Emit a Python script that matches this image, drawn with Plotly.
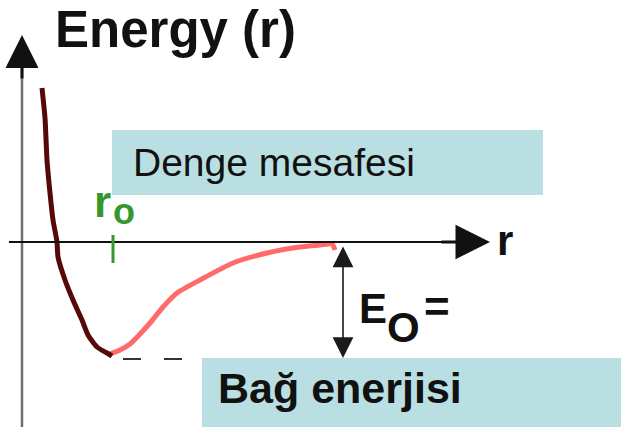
import plotly.graph_objects as go

# Interatomic potential energy curve (arbitrary units)
# Repulsive branch (r < r0)
r_repulsive = [0.20, 0.23, 0.25, 0.28, 0.31, 0.35, 0.36, 0.43, 0.51, 0.60, 0.66, 0.75, 0.85, 0.90]
E_repulsive = [1.54, 1.24, 0.82, 0.49, 0.22, 0.00, -0.15, -0.38, -0.58, -0.78, -0.93, -1.05, -1.11, -1.14]

# Attractive branch (r > r0)
r_attractive = [0.88, 0.98, 1.08, 1.18, 1.28, 1.41, 1.55, 1.78, 2.11, 2.45, 2.78, 2.98, 3.10, 3.13]
E_attractive = [-1.12, -1.08, -1.02, -0.92, -0.81, -0.65, -0.51, -0.38, -0.21, -0.11, -0.05, -0.03, -0.02, -0.08]

r0 = 0.91          # equilibrium distance
E0 = -1.17         # binding energy (well depth)
r_E0_arrow = 3.21  # where the binding-energy arrow is drawn
r_dash = [1.01, 1.60]

# Labels
title_text = "Energy (r)"
r_axis_text = "r"
r0_main, r0_sub = "r", "o"
denge_text = "Denge mesafesi"
bag_text = "Bağ enerjisi"
E0_main, E0_sub, E0_eq = "E", "O", "="

W, H = 621, 427
X_RANGE = [-0.22, 5.99]
Y_RANGE = [-1.85, 2.42]

FONT = "Liberation Sans, Arial, Helvetica, sans-serif"
GREEN = "#33992f"
BOX = "#b9dfe2"


def px_x(px):
    return X_RANGE[0] + px / W * (X_RANGE[1] - X_RANGE[0])


def px_y(py):
    return Y_RANGE[1] - py / H * (Y_RANGE[1] - Y_RANGE[0])


def text_at(text, left_px, baseline_px, size, color="#111111", bold=True):
    return dict(
        text=text,
        x=(left_px - 2) / W,
        y=1 - (baseline_px - 0.3465 * size) / H,
        xref="paper", yref="paper",
        xanchor="left", yanchor="middle",
        showarrow=False,
        font=dict(family=FONT, size=size, color=color,
                  weight="bold" if bold else "normal"),
    )


fig = go.Figure()

# Dashed reference line at the bottom of the well
fig.add_trace(go.Scatter(
    x=r_dash, y=[E0, E0], mode="lines",
    line=dict(color="#333333", width=2, dash="18px,23px"),
    hoverinfo="skip", showlegend=False,
))

fig.add_trace(go.Scatter(
    x=r_attractive, y=E_attractive, mode="lines",
    line=dict(color="#ff6b6b", width=5, shape="spline", smoothing=0.6),
    hoverinfo="skip", showlegend=False,
))
fig.add_trace(go.Scatter(
    x=r_repulsive, y=E_repulsive, mode="lines",
    line=dict(color="#560909", width=5, shape="spline", smoothing=0.6),
    hoverinfo="skip", showlegend=False,
))

shapes = [
    # label boxes
    dict(type="rect", xref="x", yref="y",
         x0=px_x(112), x1=px_x(543), y0=px_y(195), y1=px_y(130),
         fillcolor=BOX, line=dict(width=0), layer="below"),
    dict(type="rect", xref="x", yref="y",
         x0=px_x(202), x1=px_x(640), y0=px_y(440), y1=px_y(358),
         fillcolor=BOX, line=dict(width=0), layer="below"),
    # energy axis (grey shaft)
    dict(type="line", xref="x", yref="y",
         x0=0, x1=0, y0=Y_RANGE[0] - 0.1, y1=px_y(58),
         line=dict(color="#707070", width=2.5)),
    # r axis
    dict(type="line", xref="x", yref="y",
         x0=px_x(9), x1=px_x(470), y0=0, y1=0,
         line=dict(color="#111111", width=2)),
    # r0 tick
    dict(type="line", xref="x", yref="y",
         x0=r0, x1=r0, y0=px_y(263), y1=px_y(235),
         line=dict(color=GREEN, width=3)),
]

annotations = [
    # axis arrow heads
    dict(x=0, y=px_y(35), ax=0, ay=px_y(80), xref="x", yref="y",
         axref="x", ayref="y", text="", showarrow=True,
         arrowhead=2, arrowsize=2.2, arrowwidth=3, arrowcolor="#111111"),
    dict(x=px_x(490), y=0, ax=px_x(440), ay=0, xref="x", yref="y",
         axref="x", ayref="y", text="", showarrow=True,
         arrowhead=2, arrowsize=2.3, arrowwidth=3, arrowcolor="#111111"),
    # binding energy double arrow
    dict(x=r_E0_arrow, y=E0 + 0.01, ax=r_E0_arrow, ay=-0.03, xref="x", yref="y",
         axref="x", ayref="y", text="", showarrow=True,
         arrowhead=2, arrowsize=2.6, arrowwidth=1.6, arrowcolor="#1a1a1a",
         arrowside="end+start", startarrowhead=2, startarrowsize=2.6),
    # texts
    text_at(title_text, 55, 47, 51),
    text_at(r_axis_text, 497, 255, 42),
    text_at(r0_main, 94, 217, 44, color=GREEN),
    text_at(r0_sub, 113, 224, 36, color=GREEN),
    text_at(denge_text, 133, 176, 39, bold=False),
    text_at(bag_text, 218, 403, 43),
    text_at(E0_main, 359, 323, 42),
    text_at(E0_sub, 387, 342, 42),
    text_at(E0_eq, 424, 322, 44),
]

fig.update_layout(
    width=W, height=H,
    margin=dict(l=0, r=0, t=0, b=0),
    paper_bgcolor="white", plot_bgcolor="white",
    xaxis=dict(range=X_RANGE, visible=False, fixedrange=True),
    yaxis=dict(range=Y_RANGE, visible=False, fixedrange=True),
    shapes=shapes,
    annotations=annotations,
    showlegend=False,
)

fig.write_html("out.html", config={"displayModeBar": False})
